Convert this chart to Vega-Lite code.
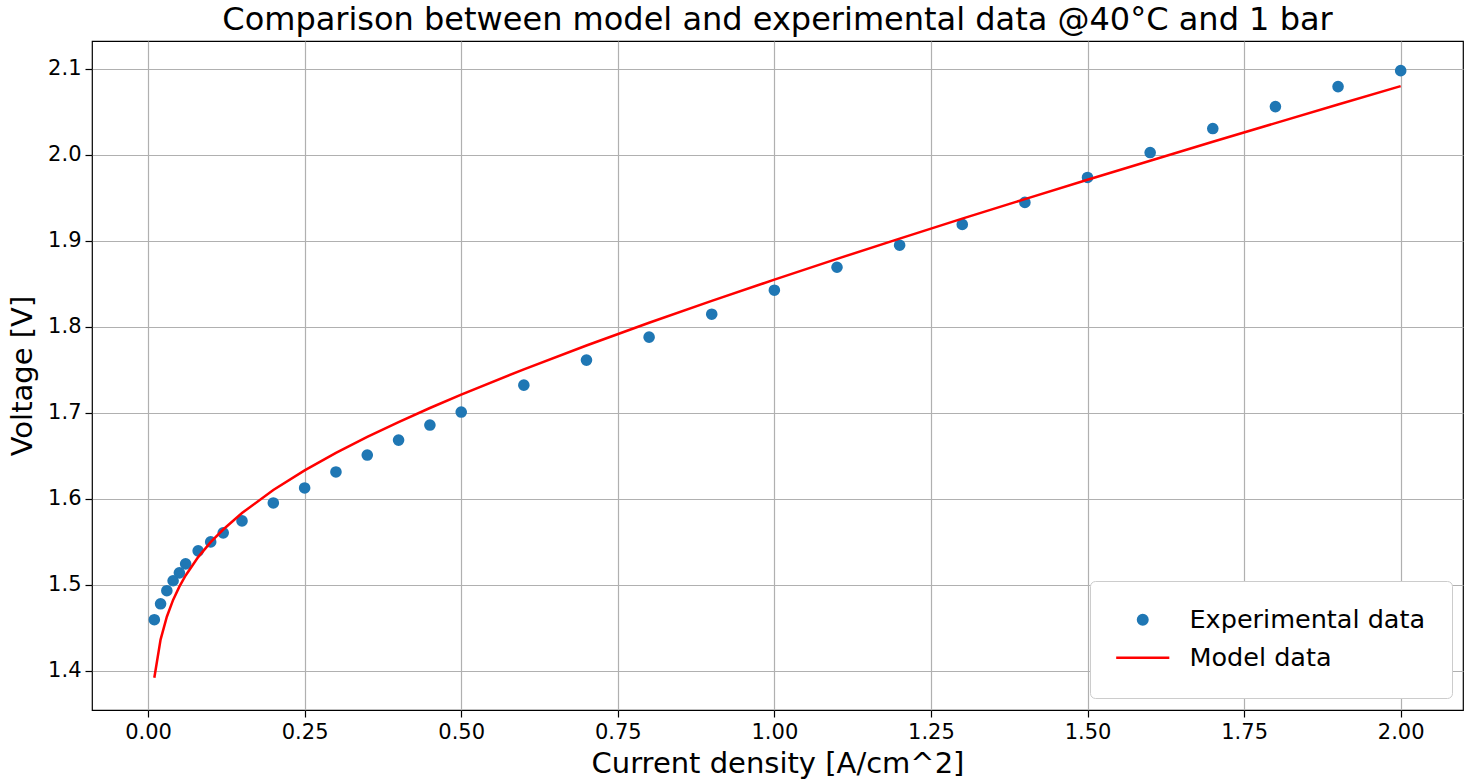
{
  "$schema": "https://vega.github.io/schema/vega-lite/v6.json",
  "width": 1371,
  "height": 669,
  "autosize": {"type": "none"},
  "padding": {"left": 92, "top": 41, "right": 11, "bottom": 72},
  "background": "white",
  "title": {
    "text": "Comparison between model and experimental data @40°C and 1 bar",
    "font": "DejaVu Sans",
    "fontSize": 32,
    "fontWeight": "normal",
    "color": "black",
    "anchor": "middle",
    "offset": 4
  },
  "config": {
    "view": {"stroke": "black", "strokeWidth": 1.2},
    "axis": {
      "domain": false,
      "grid": true,
      "gridColor": "#b0b0b0",
      "gridWidth": 1.2,
      "ticks": true,
      "tickColor": "black",
      "tickSize": 7,
      "tickWidth": 1.2,
      "labelFont": "DejaVu Sans",
      "labelFontSize": 21,
      "labelColor": "black",
      "labelPadding": 4,
      "titleFont": "DejaVu Sans",
      "titleFontSize": 29,
      "titleFontWeight": "normal",
      "titleColor": "black"
    }
  },
  "datasets": {
    "exp": [
      {"i": 0.01, "v": 1.4595, "series": "Experimental data"},
      {"i": 0.02, "v": 1.478, "series": "Experimental data"},
      {"i": 0.03, "v": 1.4932, "series": "Experimental data"},
      {"i": 0.04, "v": 1.5048, "series": "Experimental data"},
      {"i": 0.05, "v": 1.514, "series": "Experimental data"},
      {"i": 0.06, "v": 1.5245, "series": "Experimental data"},
      {"i": 0.08, "v": 1.5396, "series": "Experimental data"},
      {"i": 0.1, "v": 1.55, "series": "Experimental data"},
      {"i": 0.12, "v": 1.5605, "series": "Experimental data"},
      {"i": 0.15, "v": 1.5744, "series": "Experimental data"},
      {"i": 0.2, "v": 1.5953, "series": "Experimental data"},
      {"i": 0.25, "v": 1.6127, "series": "Experimental data"},
      {"i": 0.3, "v": 1.6313, "series": "Experimental data"},
      {"i": 0.35, "v": 1.651, "series": "Experimental data"},
      {"i": 0.4, "v": 1.6684, "series": "Experimental data"},
      {"i": 0.45, "v": 1.6859, "series": "Experimental data"},
      {"i": 0.5, "v": 1.701, "series": "Experimental data"},
      {"i": 0.6, "v": 1.7323, "series": "Experimental data"},
      {"i": 0.7, "v": 1.7614, "series": "Experimental data"},
      {"i": 0.8, "v": 1.7881, "series": "Experimental data"},
      {"i": 0.9, "v": 1.8148, "series": "Experimental data"},
      {"i": 1.0, "v": 1.8427, "series": "Experimental data"},
      {"i": 1.1, "v": 1.8694, "series": "Experimental data"},
      {"i": 1.2, "v": 1.895, "series": "Experimental data"},
      {"i": 1.3, "v": 1.9192, "series": "Experimental data"},
      {"i": 1.4, "v": 1.9448, "series": "Experimental data"},
      {"i": 1.5, "v": 1.9738, "series": "Experimental data"},
      {"i": 1.6, "v": 2.0028, "series": "Experimental data"},
      {"i": 1.7, "v": 2.0307, "series": "Experimental data"},
      {"i": 1.8, "v": 2.0562, "series": "Experimental data"},
      {"i": 1.9, "v": 2.0795, "series": "Experimental data"},
      {"i": 2.0, "v": 2.098, "series": "Experimental data"}
    ],
    "model": [
      {"i": 0.01, "v": 1.392, "series": "Model data"},
      {"i": 0.02, "v": 1.4364, "series": "Model data"},
      {"i": 0.03, "v": 1.463, "series": "Model data"},
      {"i": 0.04, "v": 1.4825, "series": "Model data"},
      {"i": 0.05, "v": 1.498, "series": "Model data"},
      {"i": 0.06, "v": 1.511, "series": "Model data"},
      {"i": 0.08, "v": 1.5323, "series": "Model data"},
      {"i": 0.1, "v": 1.5497, "series": "Model data"},
      {"i": 0.12, "v": 1.5644, "series": "Model data"},
      {"i": 0.15, "v": 1.5836, "series": "Model data"},
      {"i": 0.2, "v": 1.6103, "series": "Model data"},
      {"i": 0.25, "v": 1.6331, "series": "Model data"},
      {"i": 0.3, "v": 1.6535, "series": "Model data"},
      {"i": 0.35, "v": 1.672, "series": "Model data"},
      {"i": 0.4, "v": 1.6893, "series": "Model data"},
      {"i": 0.45, "v": 1.7057, "series": "Model data"},
      {"i": 0.5, "v": 1.7213, "series": "Model data"},
      {"i": 0.6, "v": 1.7507, "series": "Model data"},
      {"i": 0.7, "v": 1.7784, "series": "Model data"},
      {"i": 0.8, "v": 1.8048, "series": "Model data"},
      {"i": 0.9, "v": 1.8303, "series": "Model data"},
      {"i": 1.0, "v": 1.855, "series": "Model data"},
      {"i": 1.1, "v": 1.8791, "series": "Model data"},
      {"i": 1.2, "v": 1.9027, "series": "Model data"},
      {"i": 1.3, "v": 1.9259, "series": "Model data"},
      {"i": 1.4, "v": 1.9486, "series": "Model data"},
      {"i": 1.5, "v": 1.9712, "series": "Model data"},
      {"i": 1.6, "v": 1.9933, "series": "Model data"},
      {"i": 1.7, "v": 2.0153, "series": "Model data"},
      {"i": 1.8, "v": 2.037, "series": "Model data"},
      {"i": 1.9, "v": 2.0586, "series": "Model data"},
      {"i": 2.0, "v": 2.08, "series": "Model data"}
    ]
  },
  "encoding": {
    "x": {
      "field": "i",
      "type": "quantitative",
      "title": "Current density [A/cm^2]",
      "scale": {"domain": [-0.0895, 2.0995], "nice": false, "zero": false},
      "axis": {"values": [0, 0.25, 0.5, 0.75, 1.0, 1.25, 1.5, 1.75, 2.0], "format": ".2f", "titlePadding": 7}
    },
    "y": {
      "field": "v",
      "type": "quantitative",
      "title": "Voltage [V]",
      "scale": {"domain": [1.3545, 2.1325], "nice": false, "zero": false},
      "axis": {"values": [1.4, 1.5, 1.6, 1.7, 1.8, 1.9, 2.0, 2.1], "format": ".1f", "titlePadding": 10}
    },
    "color": {
      "field": "series",
      "type": "nominal",
      "scale": {"domain": ["Experimental data", "Model data"], "range": ["#1f77b4", "#ff0000"]},
      "legend": {
        "title": null,
        "orient": "none",
        "legendX": 998,
        "legendY": 540,
        "labelFont": "DejaVu Sans",
        "labelFontSize": 25.5,
        "labelColor": "black",
        "labelLimit": 0,
        "symbolSize": 90,
        "symbolStrokeWidth": 2.5,
        "padding": 26,
        "rowPadding": 11,
        "labelOffset": 34,
        "symbolOffset": 14,
        "fillColor": "white",
        "strokeColor": "#cccccc",
        "cornerRadius": 5,
        "encode": {
          "symbols": {
            "update": {
              "stroke": {"scale": "color", "field": "value"},
              "fill": {"scale": "color", "field": "value"}
            }
          }
        }
      }
    }
  },
  "layer": [
    {
      "data": {"name": "exp"},
      "mark": {"type": "point", "filled": true, "size": 135, "opacity": 1},
      "encoding": {
        "shape": {
          "field": "series",
          "type": "nominal",
          "scale": {"domain": ["Experimental data", "Model data"], "range": ["circle", "M-5.6,0L5.6,0"]},
          "legend": {"title": null}
        }
      }
    },
    {
      "data": {"name": "model"},
      "mark": {"type": "line", "strokeWidth": 2.5, "color": "#ff0000"},
      "encoding": {}
    }
  ]
}
